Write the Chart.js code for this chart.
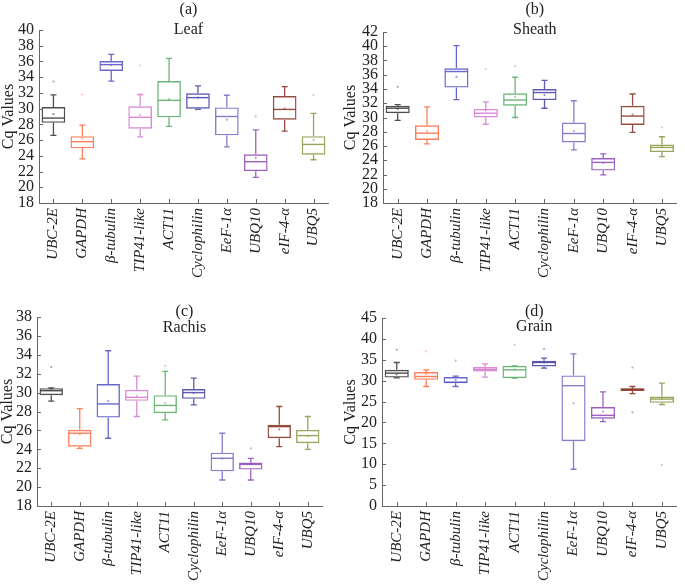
<!DOCTYPE html>
<html>
<head>
<meta charset="utf-8">
<script src="https://cdn.jsdelivr.net/npm/chart.js@4.4.1/dist/chart.umd.min.js"></script>
<style>
  html,body{margin:0;padding:0;background:#fff;}
  body{width:685px;height:585px;position:relative;overflow:hidden;}
  .p{position:absolute;}
</style>
</head>
<body>
<div class="p" style="left:0;top:0"><canvas id="cA" width="340" height="290"></canvas></div>
<div class="p" style="left:340px;top:0"><canvas id="cB" width="345" height="290"></canvas></div>
<div class="p" style="left:0;top:290px"><canvas id="cC" width="340" height="295"></canvas></div>
<div class="p" style="left:340px;top:290px"><canvas id="cD" width="345" height="295"></canvas></div>
<script>
// ---------------- DATA ----------------
const categories = ['UBC-2E','GAPDH','β-tubulin','TIP41-like','ACT11','Cyclophilin','EeF-1α','UBQ10','eIF-4-α','UBQ5'];
const panelLetters = ['(a)','(b)','(c)','(d)'];
const tissues = ['Leaf','Sheath','Rachis','Grain'];
const yAxisTitle = 'Cq Values';
const yMins = [18, 18, 18, 0];
const yMaxs = [40, 42, 38, 45];
const ySteps = [2, 2, 2, 5];

// Leaf
const leafLo   = [26.6, 23.6, 33.5, 26.4, 27.75, 29.9, 25.15, 21.25, 27.15, 23.5];
const leafQ1   = [28.2, 24.95, 34.8, 27.45, 28.9, 30.0, 26.6, 22.05, 28.6, 24.15];
const leafMed  = [28.8, 25.8, 35.6, 28.9, 31.05, 31.4, 29.0, 23.25, 29.9, 25.45];
const leafQ3   = [30.2, 26.5, 36.05, 30.3, 33.5, 31.95, 30.15, 24.2, 31.6, 26.5];
const leafHi   = [31.75, 27.9, 36.9, 31.8, 36.4, 32.9, 31.7, 27.3, 32.8, 29.4];
const leafMean = [29.3, 26.2, 35.55, 29.2, 31.2, 31.4, 28.6, 23.75, 30.0, 26.0];
const leafOut  = [[0, 33.45], [1, 31.8], [3, 35.5], [7, 29.0], [9, 31.7]];

// Sheath
const sheathLo   = [29.6, 26.3, 32.5, 29.05, 30.0, 31.3, 25.45, 21.95, 27.9, 24.5];
const sheathQ1   = [30.6, 26.85, 34.2, 30.0, 31.65, 32.45, 26.5, 22.55, 28.95, 25.15];
const sheathMed  = [31.3, 27.8, 36.45, 30.6, 32.45, 33.5, 27.75, 23.7, 30.2, 25.8];
const sheathQ3   = [31.65, 28.9, 36.9, 31.2, 33.4, 34.0, 29.3, 24.3, 31.65, 26.2];
const sheathHi   = [31.8, 31.5, 40.1, 32.2, 35.65, 35.2, 32.35, 24.9, 33.3, 27.3];
const sheathMean = [31.2, 28.1, 35.7, 31.0, 32.9, 33.15, 28.1, 23.6, 30.4, 25.9];
const sheathOut  = [[0, 34.3], [3, 36.8], [4, 37.2], [9, 28.6]];

// Rachis
const rachisLo   = [29.1, 24.1, 25.17, 27.47, 27.12, 28.7, 20.75, 20.75, 24.28, 24.0];
const rachisQ1   = [29.73, 24.28, 27.36, 29.13, 27.82, 29.34, 21.67, 21.85, 25.17, 24.64];
const rachisMed  = [30.2, 25.7, 28.8, 29.5, 28.64, 30.0, 23.05, 22.4, 26.4, 25.45];
const rachisQ3   = [30.47, 26.06, 30.9, 30.3, 29.73, 30.37, 23.64, 22.6, 26.6, 26.05];
const rachisHi   = [30.5, 28.3, 34.43, 31.75, 32.24, 31.53, 25.7, 23.05, 28.53, 27.47];
const rachisMean = [30.4, 25.6, 29.1, 29.66, 28.9, 29.95, 23.0, 22.5, 26.1, 25.4];
const rachisOut  = [[0, 32.7], [4, 32.84], [7, 24.1]];

// Grain
const grainLo   = [30.65, 28.6, 28.6, 30.85, 30.6, 33.0, 8.8, 20.2, 26.9, 24.3];
const grainQ1   = [30.75, 30.2, 29.4, 32.2, 30.6, 33.4, 15.5, 20.9, 27.5, 24.7];
const grainMed  = [31.8, 31.0, 29.6, 32.7, 32.6, 34.35, 28.8, 21.7, 27.9, 25.6];
const grainQ3   = [32.6, 32.05, 30.85, 33.25, 33.55, 34.75, 31.25, 23.7, 28.2, 26.2];
const grainHi   = [34.35, 32.6, 31.1, 34.0, 33.55, 35.4, 36.4, 27.3, 28.6, 29.4];
const grainMean = [31.5, 31.6, 30.2, 32.7, 32.7, 34.35, 24.6, 22.6, 27.9, 25.6];
const grainOut  = [[0, 37.4], [1, 37.0], [2, 34.8], [4, 38.6], [5, 37.6], [8, 33.15], [8, 22.4], [9, 9.8]];

// ---------------- STYLE ----------------
const boxColors = ['#3c3c3c','#ff7048','#5856c6','#d67ed0','#5cad68','#4a48aa','#7f6bca','#9250b8','#8a3a2a','#8e9a4a'];
const serif = "'Liberation Serif', 'Times New Roman', serif";

const panels = [
  {id:'cA', lo:leafLo, q1:leafQ1, med:leafMed, q3:leafQ3, hi:leafHi, mean:leafMean, out:leafOut,
   yW:39, pr:12, pt:30, xH:87, titleY:[10,30], axTitleX:9},
  {id:'cB', lo:sheathLo, q1:sheathQ1, med:sheathMed, q3:sheathQ3, hi:sheathHi, mean:sheathMean, out:sheathOut,
   yW:43, pr:1, pt:32, xH:87, titleY:[10,30], axTitleX:11},
  {id:'cC', lo:rachisLo, q1:rachisQ1, med:rachisMed, q3:rachisQ3, hi:rachisHi, mean:rachisMean, out:rachisOut,
   yW:37, pr:18, pt:27, xH:79, titleY:[22,38], axTitleX:8},
  {id:'cD', lo:grainLo, q1:grainQ1, med:grainMed, q3:grainQ3, hi:grainHi, mean:grainMean, out:grainOut,
   yW:42, pr:2, pt:28, xH:79, titleY:[22,37], axTitleX:11}
];

function hexA(hex, a){
  const n = parseInt(hex.slice(1),16);
  return 'rgba(' + ((n>>16)&255) + ',' + ((n>>8)&255) + ',' + (n&255) + ',' + a + ')';
}

panels.forEach((p, k) => {
  const boxPlugin = {
    id: 'boxExtras' + k,
    afterDatasetsDraw(chart){
      const ctx = chart.ctx;
      const y = chart.scales.y;
      const meta = chart.getDatasetMeta(0);
      ctx.save();
      meta.data.forEach((bar, i) => {
        const c = boxColors[i];
        const x = bar.x;
        const hw = bar.width / 2;
        ctx.strokeStyle = hexA(c, 0.9);
        ctx.lineWidth = 1.3;
        const yQ1 = y.getPixelForValue(p.q1[i]);
        const yQ3 = y.getPixelForValue(p.q3[i]);
        const yLo = y.getPixelForValue(p.lo[i]);
        const yHi = y.getPixelForValue(p.hi[i]);
        ctx.beginPath();
        ctx.moveTo(x, yQ3); ctx.lineTo(x, yHi);
        ctx.moveTo(x, yQ1); ctx.lineTo(x, yLo);
        ctx.moveTo(x - 3, yHi); ctx.lineTo(x + 3, yHi);
        ctx.moveTo(x - 3, yLo); ctx.lineTo(x + 3, yLo);
        ctx.stroke();
        const yM = y.getPixelForValue(p.med[i]);
        ctx.lineWidth = 1.4;
        ctx.beginPath();
        ctx.moveTo(x - hw + 1, yM); ctx.lineTo(x + hw - 1, yM);
        ctx.stroke();
        ctx.fillStyle = hexA(c, 0.6);
        ctx.beginPath();
        ctx.arc(x, y.getPixelForValue(p.mean[i]), 1.1, 0, Math.PI * 2);
        ctx.fill();
      });
      p.out.forEach(o => {
        const bar = meta.data[o[0]];
        ctx.fillStyle = hexA(boxColors[o[0]], 0.45);
        ctx.beginPath();
        ctx.arc(bar.x, y.getPixelForValue(o[1]), 1.1, 0, Math.PI * 2);
        ctx.fill();
      });
      ctx.restore();
    },
    afterDraw(chart){
      const ctx = chart.ctx;
      const a = chart.chartArea;
      const xs = chart.scales.x, ys = chart.scales.y;
      ctx.save();
      ctx.strokeStyle = '#666';
      ctx.lineWidth = 1;
      ctx.beginPath();
      ys.ticks.forEach((t, i) => {
        const yy = Math.round(ys.getPixelForTick(i)) + 0.5;
        ctx.moveTo(a.left, yy); ctx.lineTo(a.left + 4, yy);
      });
      categories.forEach((c, i) => {
        const xx = Math.round(xs.getPixelForTick(i)) + 0.5;
        ctx.moveTo(xx, a.bottom); ctx.lineTo(xx, a.bottom - 4);
      });
      ctx.stroke();
      const cx = (a.left + a.right) / 2 + 5;
      ctx.fillStyle = '#222';
      ctx.textAlign = 'center';
      ctx.textBaseline = 'middle';
      ctx.font = '16px ' + serif;
      ctx.fillText(panelLetters[k], cx, p.titleY[0]);
      ctx.fillText(tissues[k], cx, p.titleY[1]);
      ctx.translate(p.axTitleX, (a.top + a.bottom) / 2);
      ctx.rotate(-Math.PI / 2);
      ctx.font = '16px ' + serif;
      ctx.fillText(yAxisTitle, 0, 0);
      ctx.restore();
    }
  };

  new Chart(document.getElementById(p.id), {
    type: 'bar',
    data: {
      labels: categories,
      datasets: [{
        data: p.q1.map((v, i) => [v, p.q3[i]]),
        backgroundColor: 'rgba(255,255,255,0)',
        borderColor: boxColors.map(c => hexA(c, 0.9)),
        borderWidth: 1.4,
        borderSkipped: false,
        barPercentage: 0.82,
        categoryPercentage: 1.0
      }]
    },
    options: {
      responsive: false,
      animation: false,
      devicePixelRatio: 1,
      layout: { padding: { left: 0, right: p.pr, top: p.pt, bottom: 0 } },
      plugins: { legend: { display: false }, tooltip: { enabled: false }, title: { display: false } },
      scales: {
        x: {
          grid: { display: false, drawTicks: false },
          border: { display: true, color: '#666', width: 1 },
          ticks: {
            autoSkip: false, minRotation: 90, maxRotation: 90, padding: 5,
            color: '#222', font: { family: serif, size: 15, style: 'italic' }
          },
          afterFit(s){ s.height = p.xH; }
        },
        y: {
          min: yMins[k], max: yMaxs[k],
          grid: { display: false, drawTicks: false },
          border: { display: true, color: '#666', width: 1 },
          ticks: {
            autoSkip: false, stepSize: ySteps[k], padding: 5, color: '#222',
            font: { family: serif, size: 16 }
          },
          afterFit(s){ s.width = p.yW; }
        }
      }
    },
    plugins: [boxPlugin]
  });
});
</script>
</body>
</html>
